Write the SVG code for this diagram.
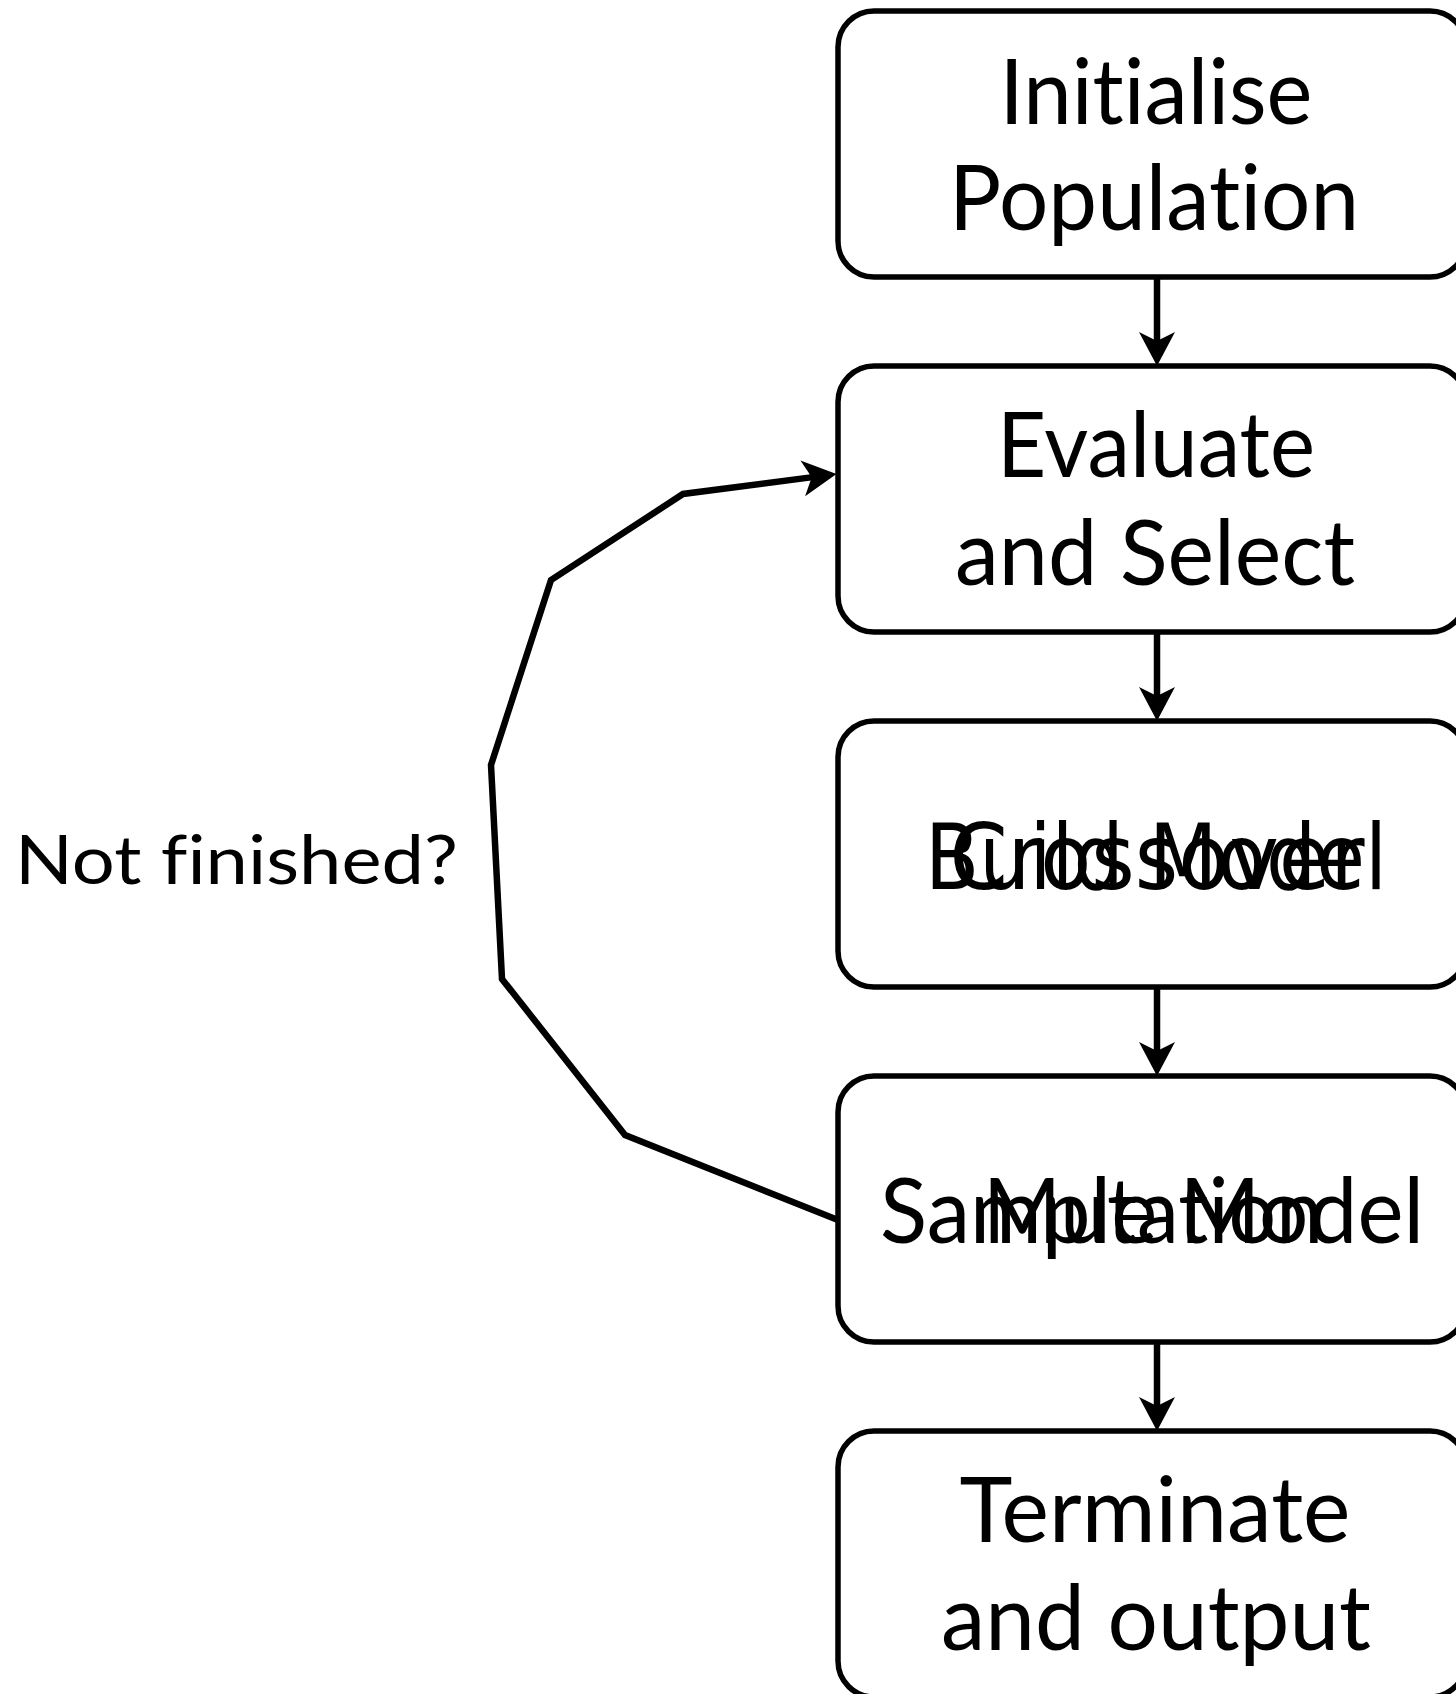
<svg xmlns="http://www.w3.org/2000/svg" width="1456" height="1694" viewBox="0 0 1456 1694">
  <style>
    .box { fill: #ffffff; stroke: #000000; stroke-width: 5.5; }
    text { font-variant-ligatures: none; fill: #000000; text-anchor: middle; }
    .lbl { font-family: Lato, "Noto Sans", "Liberation Sans", sans-serif; font-size: 92px; }
    .alt { font-family: "DejaVu Sans", "Liberation Sans", sans-serif; font-size: 90px; }
    .side { font-family: Lato, "Noto Sans", "Liberation Sans", sans-serif; font-size: 67px; }
    .edge { fill: none; stroke: #000000; stroke-width: 6.5; stroke-linejoin: miter; }
    .tip { fill: #000000; stroke: none; }
  </style>
  <defs>
    <!-- arrowhead with its point at the origin, pointing along +x -->
    <path id="head" d="M0,0 L-34,-18 L-25,0 L-34,18 Z"/>
  </defs>

  <rect width="1456" height="1694" fill="#ffffff"/>

  <g id="connectors">
    <line class="edge" x1="1157" y1="277" x2="1157" y2="342"/>
    <use class="tip" href="#head" transform="translate(1157,366) rotate(90)"/>
    <line class="edge" x1="1157" y1="632" x2="1157" y2="697"/>
    <use class="tip" href="#head" transform="translate(1157,721) rotate(90)"/>
    <line class="edge" x1="1157" y1="987" x2="1157" y2="1052"/>
    <use class="tip" href="#head" transform="translate(1157,1076) rotate(90)"/>
    <line class="edge" x1="1157" y1="1342" x2="1157" y2="1407"/>
    <use class="tip" href="#head" transform="translate(1157,1431) rotate(90)"/>
    <polyline class="edge" points="838,1220 625,1135 502,979 491,765 551,580 683,494 812.7,477.1"/>
    <use class="tip" href="#head" transform="translate(836.5,474) rotate(-7.42)"/>
  </g>

  <g id="initialise">
    <rect class="box" x="838" y="11" width="628" height="266" rx="36" ry="36"/>
    <text class="lbl" x="1156" y="124" textLength="313" lengthAdjust="spacingAndGlyphs">Initialise</text>
    <text class="lbl" x="1154" y="230" textLength="410" lengthAdjust="spacingAndGlyphs">Population</text>
  </g>

  <g id="evaluate">
    <rect class="box" x="838" y="366" width="628" height="266" rx="36" ry="36"/>
    <text class="lbl" x="1156" y="477" textLength="318" lengthAdjust="spacingAndGlyphs">Evaluate</text>
    <text class="lbl" x="1155" y="585" textLength="400" lengthAdjust="spacingAndGlyphs">and Select</text>
  </g>

  <g id="build">
    <rect class="box" x="838" y="721" width="628" height="266" rx="36" ry="36"/>
    <text class="alt" x="1156" y="889" textLength="462" lengthAdjust="spacingAndGlyphs">Build Model</text>
    <text class="alt" x="1157" y="889" textLength="415" lengthAdjust="spacingAndGlyphs">Crossover</text>
  </g>

  <g id="sample">
    <rect class="box" x="838" y="1076" width="628" height="266" rx="36" ry="36"/>
    <text class="lbl" x="1152" y="1243" textLength="544" lengthAdjust="spacingAndGlyphs">Sample Model</text>
    <text class="lbl" x="1153" y="1243" textLength="340" lengthAdjust="spacingAndGlyphs">Mutation</text>
  </g>

  <g id="terminate">
    <rect class="box" x="838" y="1431" width="628" height="266" rx="36" ry="36"/>
    <text class="lbl" x="1155" y="1542" textLength="391" lengthAdjust="spacingAndGlyphs">Terminate</text>
    <text class="lbl" x="1156" y="1650" textLength="430" lengthAdjust="spacingAndGlyphs">and output</text>
  </g>

  <g id="loop-label">
    <text class="side" x="236.5" y="884" textLength="443" lengthAdjust="spacingAndGlyphs">Not finished?</text>
  </g>
</svg>
